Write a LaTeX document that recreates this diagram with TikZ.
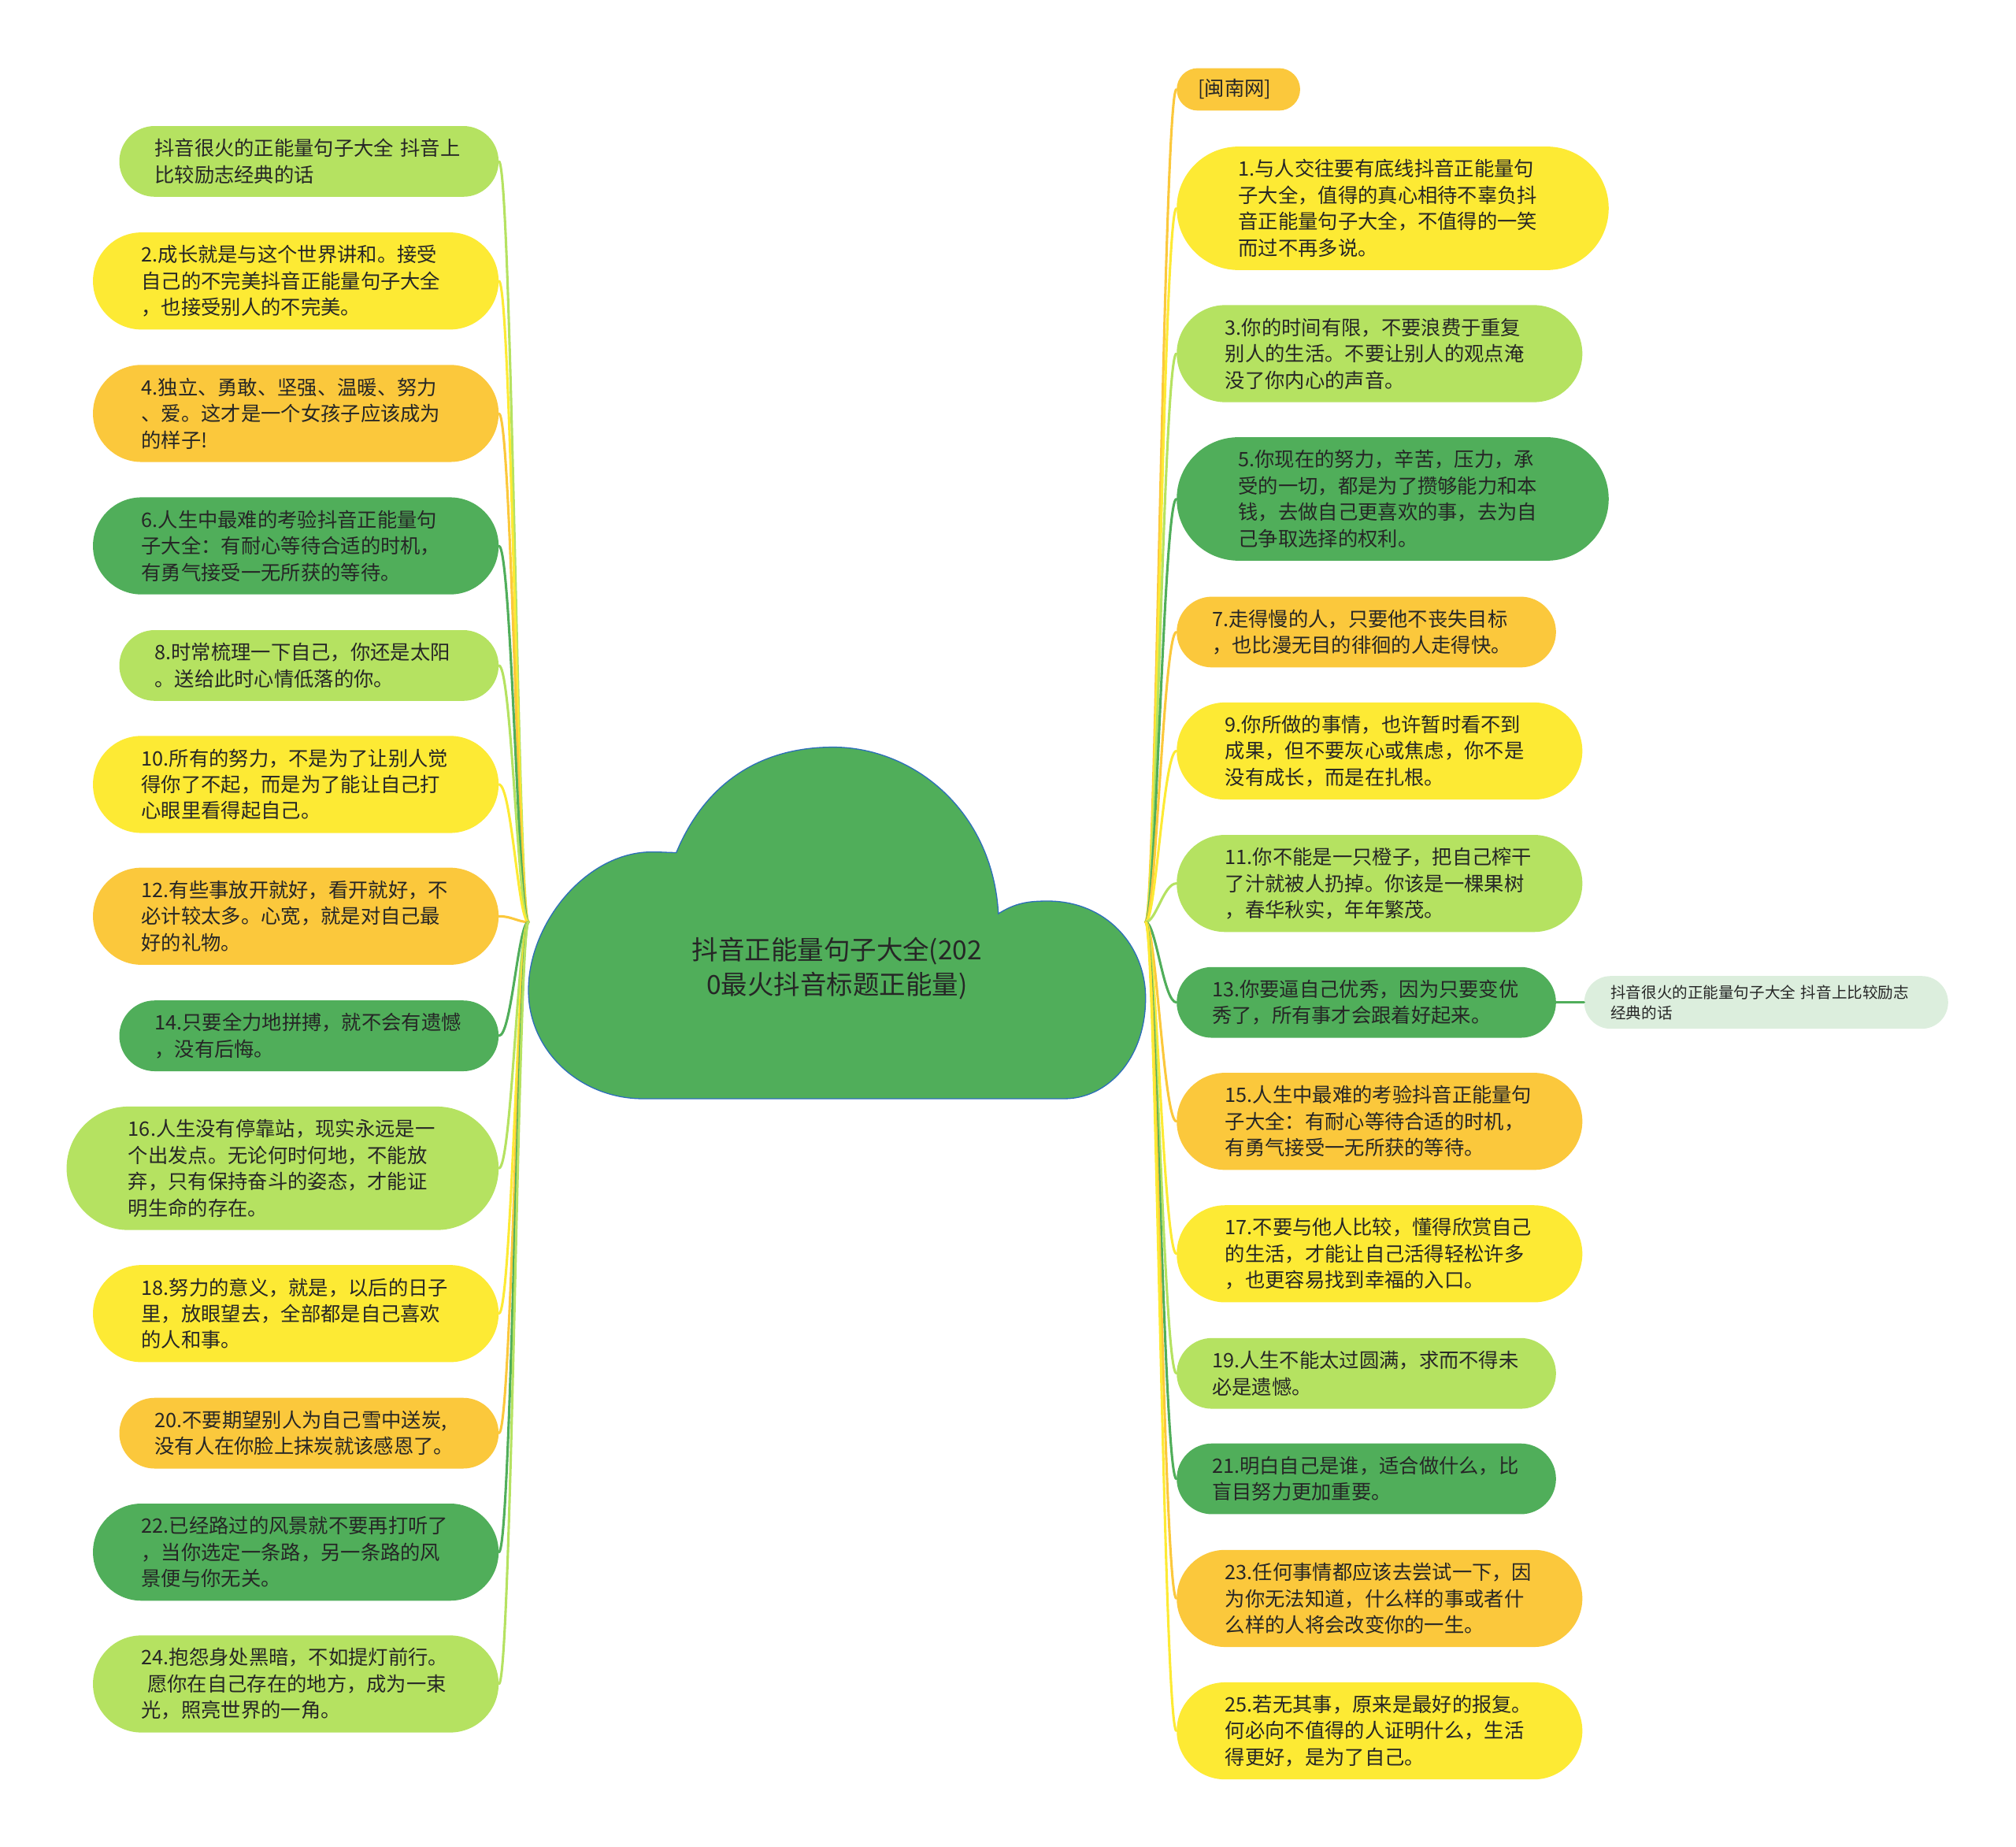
\documentclass[tikz,border=0pt]{standalone}
\usepackage{fontspec}
\setmainfont{Noto Sans CJK SC}
\usetikzlibrary{calc}
\definecolor{lime}{RGB}{181,226,97}
\definecolor{sun}{RGB}{253,234,52}
\definecolor{amber}{RGB}{251,200,60}
\definecolor{leaf}{RGB}{80,174,90}
\definecolor{mint}{RGB}{220,238,221}
\definecolor{rim}{RGB}{45,110,185}
\definecolor{ink}{RGB}{38,38,38}

\tikzset{
  topic/.style={text=ink, align=left, text width=240pt, inner ysep=0pt,
    font=\fontsize{15.5pt}{20.5pt}\selectfont},
  one/.style={topic, text width=63pt, minimum height=33pt, inner xsep=16.5pt, rounded corners=16.5pt},
  two/.style={topic, minimum height=55pt, inner xsep=27.5pt, rounded corners=27.5pt},
  three/.style={topic, minimum height=75.5pt, inner xsep=37.75pt, rounded corners=37.75pt},
  four/.style={topic, minimum height=96pt, inner xsep=48pt, rounded corners=48pt},
  tipbox/.style={text=ink, align=left, text width=242pt, inner ysep=0pt, minimum height=41pt,
    inner xsep=20.5pt, rounded corners=20.5pt, font=\fontsize{12pt}{16pt}\selectfont},
  branch/.style={line width=1.9pt, line cap=round},
}

\begin{document}
\begin{tikzpicture}[x=1pt,y=-1pt]
  \useasboundingbox (0,0) rectangle (1568,1435.7);
  % hubs on both flanks of the cloud
  \coordinate (hubL) at (411,717);
  \coordinate (hubR) at (891,717);
  % left column
  \foreach \i/\yy/\sty/\col/\txt in {
    1/125.5/two/lime/{抖音很火的正能量句子大全 抖音上\\比较励志经典的话},
    2/218.5/three/sun/{2.成长就是与这个世界讲和。接受\\自己的不完美抖音正能量句子大全\\，也接受别人的不完美。},
    3/321.5/three/amber/{4.独立、勇敢、坚强、温暖、努力\\、爱。这才是一个女孩子应该成为\\的样子!},
    4/424.5/three/leaf/{6.人生中最难的考验抖音正能量句\\子大全：有耐心等待合适的时机，\\有勇气接受一无所获的等待。},
    5/517.5/two/lime/{8.时常梳理一下自己，你还是太阳\\。送给此时心情低落的你。},
    6/610/three/sun/{10.所有的努力，不是为了让别人觉\\得你了不起，而是为了能让自己打\\心眼里看得起自己。},
    7/712.5/three/amber/{12.有些事放开就好，看开就好，不\\必计较太多。心宽，就是对自己最\\好的礼物。},
    8/805.5/two/leaf/{14.只要全力地拼搏，就不会有遗憾\\，没有后悔。},
    9/908.5/four/lime/{16.人生没有停靠站，现实永远是一\\个出发点。无论何时何地，不能放\\弃，只有保持奋斗的姿态，才能证\\明生命的存在。},
    10/1021.5/three/sun/{18.努力的意义，就是，以后的日子\\里，放眼望去，全部都是自己喜欢\\的人和事。},
    11/1114.5/two/amber/{20.不要期望别人为自己雪中送炭,\\没有人在你脸上抹炭就该感恩了。},
    12/1207/three/leaf/{22.已经路过的风景就不要再打听了\\，当你选定一条路，另一条路的风\\景便与你无关。},
    13/1309.5/three/lime/{24.抱怨身处黑暗，不如提灯前行。\\\hspace*{0.3em}愿你在自己存在的地方，成为一束\\光，照亮世界的一角。}}
  {
    \node[\sty, fill=\col, anchor=east] (L\i) at (388,\yy) {\txt};
    \draw[branch, draw=\col] (hubL) .. controls +(-8,0) and +(10,0) .. (L\i.east);
  }
  % right column
  \foreach \i/\yy/\sty/\col/\txt in {
    0/69.5/one/amber/{[闽南网]},
    1/162/four/sun/{1.与人交往要有底线抖音正能量句\\子大全，值得的真心相待不辜负抖\\音正能量句子大全，不值得的一笑\\而过不再多说。},
    2/275/three/lime/{3.你的时间有限，不要浪费于重复\\别人的生活。不要让别人的观点淹\\没了你内心的声音。},
    3/388/four/leaf/{5.你现在的努力，辛苦，压力，承\\受的一切，都是为了攒够能力和本\\钱，去做自己更喜欢的事，去为自\\己争取选择的权利。},
    4/491.5/two/amber/{7.走得慢的人，只要他不丧失目标\\，也比漫无目的徘徊的人走得快。},
    5/584/three/sun/{9.你所做的事情，也许暂时看不到\\成果，但不要灰心或焦虑，你不是\\没有成长，而是在扎根。},
    6/687/three/lime/{11.你不能是一只橙子，把自己榨干\\了汁就被人扔掉。你该是一棵果树\\，春华秋实，年年繁茂。},
    7/779.5/two/leaf/{13.你要逼自己优秀，因为只要变优\\秀了，所有事才会跟着好起来。},
    8/872/three/amber/{15.人生中最难的考验抖音正能量句\\子大全：有耐心等待合适的时机，\\有勇气接受一无所获的等待。},
    9/975/three/sun/{17.不要与他人比较，懂得欣赏自己\\的生活，才能让自己活得轻松许多\\，也更容易找到幸福的入口。},
    10/1068/two/lime/{19.人生不能太过圆满，求而不得未\\必是遗憾。},
    11/1150/two/leaf/{21.明白自己是谁，适合做什么，比\\盲目努力更加重要。},
    12/1243/three/amber/{23.任何事情都应该去尝试一下，因\\为你无法知道，什么样的事或者什\\么样的人将会改变你的一生。},
    13/1346/three/sun/{25.若无其事，原来是最好的报复。\\何必向不值得的人证明什么，生活\\得更好，是为了自己。}}
  {
    \node[\sty, fill=\col, anchor=west] (R\i) at (915,\yy) {\txt};
    \draw[branch, draw=\col] (hubR) .. controls +(8,0) and +(-10,0) .. (R\i.west);
  }
  % side note hanging off topic 13
  \node[tipbox, fill=mint, anchor=west] (tip) at (1232,779.5)
    {抖音很火的正能量句子大全 抖音上比较励志\\经典的话};
  \draw[branch, draw=leaf] (R7.east) -- (tip.west);
  % central cloud
  \draw[rim, fill=leaf, line width=0.8pt]
    (526,663) .. controls (548,610) and (590,581) .. (648,581)
    .. controls (710,581) and (772,630) .. (776.5,710.5)
    .. controls (790,702) and (800,700.7) .. (815,700.7)
    .. controls (860,700.7) and (891,735) .. (891,776)
    .. controls (891,825) and (860,854.4) .. (828,854.4)
    -- (500,854.4)
    .. controls (452,854.4) and (411,818) .. (411,770)
    .. controls (411,718) and (456,662.5) .. (507,662.5)
    .. controls (515,662.5) and (520,663) .. cycle;
  \node[text=ink, align=center, font=\fontsize{20.5pt}{27pt}\selectfont] (root) at (651,753)
    {抖音正能量句子大全(202\\0最火抖音标题正能量)};
\end{tikzpicture}
\end{document}
